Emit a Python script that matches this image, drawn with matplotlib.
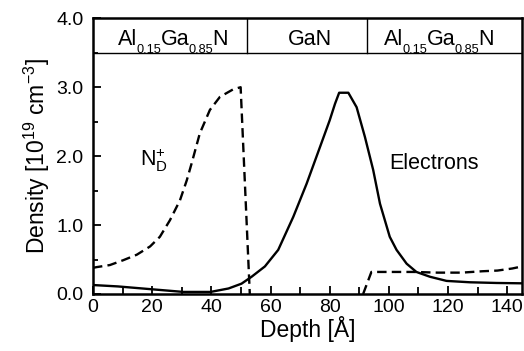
import numpy as np
import matplotlib
matplotlib.use('Agg')
import matplotlib.pyplot as plt
import matplotlib.transforms as mtransforms
from matplotlib.ticker import MultipleLocator, FormatStrFormatter

plt.rcParams['font.family'] = ['Liberation Sans', 'DejaVu Sans']
plt.rcParams['mathtext.fontset'] = 'custom'
plt.rcParams['mathtext.rm'] = 'Liberation Sans'
plt.rcParams['mathtext.it'] = 'Liberation Sans:italic'
plt.rcParams['mathtext.bf'] = 'Liberation Sans:bold'

# ionized donors (dashed), two barrier regions
donor_x = [0, 1.25, 5.7, 10.2, 14.8, 19.3, 22.6, 26.0, 29.4, 31.7, 33.3, 36.1, 39.5, 42.9, 47.4, 49.9, 53.0,
           np.nan,
           91.3, 94.1, 101.4, 108.4, 116.5, 124.6, 131.6, 136.7, 141.7, 145]
donor_y = [0.38, 0.39, 0.42, 0.49, 0.57, 0.69, 0.83, 1.07, 1.36, 1.65, 1.89, 2.33, 2.67, 2.86, 2.97, 3.00, 0.0,
           np.nan,
           0.0, 0.32, 0.32, 0.32, 0.31, 0.31, 0.33, 0.34, 0.37, 0.40]

# electron density (solid)
elec_x = [0, 8.4, 19.5, 30.6, 39.7, 45.8, 50.2, 53.6, 58.1, 62.6, 67.7, 72.2, 76.7, 80.0, 81.8,
          83.2, 86.3, 89.1, 91.9, 94.7, 97.0, 100.3, 102.6, 106.0, 109.3, 113.9, 119.5,
          127.4, 136.4, 145]
elec_y = [0.13, 0.11, 0.07, 0.03, 0.03, 0.08, 0.15, 0.25, 0.40, 0.64, 1.12, 1.60, 2.13, 2.52, 2.76,
          2.92, 2.92, 2.71, 2.28, 1.80, 1.31, 0.83, 0.64, 0.44, 0.32, 0.25, 0.19,
          0.17, 0.16, 0.155]

# layer names as (text, is_subscript) pieces
algan = [('Al', False), ('0.15', True), ('Ga', False), ('0.85', True), ('N', False)]
layer_names = [algan, [('GaN', False)], algan]
layer_bounds = [51.9, 92.5]          # interfaces
layer_label_x = [26.9, 73.3, 116.9]

fs_head = 15.5
fs_sub = 9.2


def chem_label(ax, xc, y, parts):
    # lay the pieces out side by side, subscripts small and below the baseline
    fig = ax.figure
    renderer = fig.canvas.get_renderer()
    items = []
    for s, sub in parts:
        t = ax.text(xc, y, s, fontsize=fs_sub if sub else fs_head, ha='left', va='baseline')
        w = t.get_window_extent(renderer).width * 72.0 / fig.dpi - 0.6
        items.append((t, w, sub))
    total = sum(w for _, w, _ in items)
    xoff = -total / 2.0
    for t, w, sub in items:
        dy = -5.5 if sub else 0.0
        t.set_transform(mtransforms.offset_copy(ax.transData, fig, x=xoff, y=dy, units='points'))
        xoff += w


fig = plt.figure(figsize=(5.24, 3.51), dpi=100)
ax = fig.add_axes([93 / 524, 57 / 351, 429 / 524, 275.7 / 351])

ax.plot(elec_x, elec_y, color='black', linewidth=1.7)
ax.plot(donor_x, donor_y, color='black', linewidth=1.7, linestyle=(0, (4, 2.2)))

# header strip with layer names
ax.axhline(3.5, color='black', linewidth=1.0)
for xe in layer_bounds:
    ax.plot([xe, xe], [3.5, 4.0], color='black', linewidth=1.0)

ax.set_xlim(0, 145)
ax.set_ylim(0, 4.0)

for xl, parts in zip(layer_label_x, layer_names):
    chem_label(ax, xl, 3.61, parts)

ax.text(20.6, 1.94, r'N$_{\mathrm{D}}^{\mathrm{+}}$', ha='center', va='center', fontsize=15.5)
ax.text(100.3, 1.9, 'Electrons', ha='left', va='center', fontsize=15.5)

ax.xaxis.set_major_locator(MultipleLocator(20))
ax.xaxis.set_minor_locator(MultipleLocator(10))
ax.yaxis.set_major_locator(MultipleLocator(1.0))
ax.yaxis.set_minor_locator(MultipleLocator(0.5))
ax.yaxis.set_major_formatter(FormatStrFormatter('%.1f'))
ax.tick_params(which='both', direction='in', top=False, right=False, labelsize=14, width=1.3)
ax.tick_params(which='major', length=6)
ax.tick_params(which='minor', length=5)
ax.tick_params(axis='y', which='minor', length=3.5)
ax.tick_params(axis='y', which='major', pad=7)
for side in ax.spines:
    ax.spines[side].set_linewidth(1.8)

ax.set_xlabel('Depth [Å]', fontsize=16.5, labelpad=0)
ax.set_ylabel(r'Density [10$^{\mathrm{19}}$ cm$^{\mathrm{-3}}$]', fontsize=16.5, labelpad=3)

fig.savefig('out.png', dpi=100)
